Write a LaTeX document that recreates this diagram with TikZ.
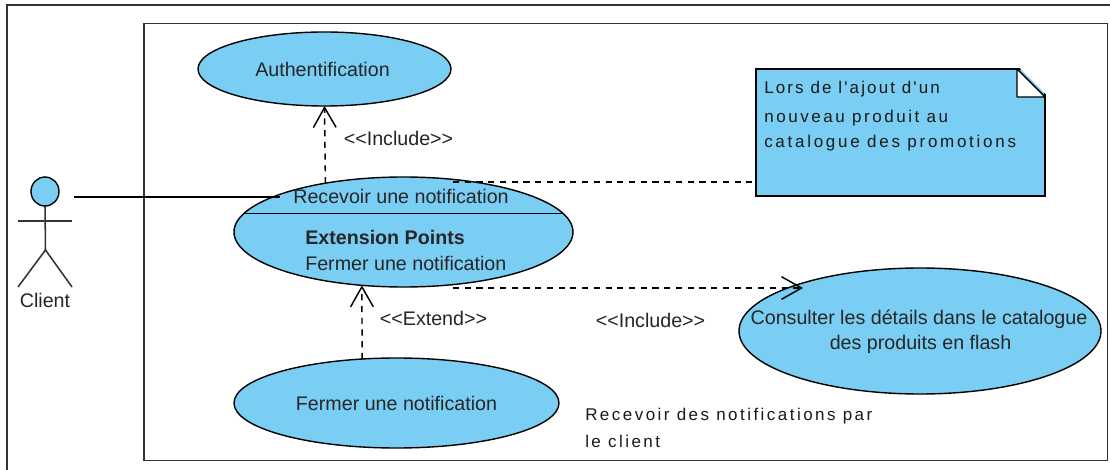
\documentclass[tikz,border=0pt]{standalone}
\usepackage{fontspec}
\setmainfont{Liberation Sans}
\newfontfamily\spacedA[LetterSpace=12.5]{Liberation Sans}
\newfontfamily\spacedB[LetterSpace=15]{Liberation Sans}
\newfontfamily\spacedC[LetterSpace=16]{Liberation Sans}
\newfontfamily\spacedD[LetterSpace=14.5]{Liberation Sans}
\newcommand{\stereo}[1]{<\kern0pt<#1>\kern0pt>}
\usetikzlibrary{arrows.meta,shapes.geometric,calc}
\definecolor{ucblue}{HTML}{7ACEF4}
\definecolor{txt}{HTML}{262626}
\definecolor{framec}{HTML}{333333}
\tikzset{
  x=0.75pt,y=-0.75pt,
  frameline/.style={draw=framec,line width=1.35pt},
  usecase/.style={ellipse,draw=black,fill=ucblue,line width=1.05pt,inner sep=0pt,outer sep=0pt},
  lbl/.style={text=txt,inner sep=0pt,font=\fontsize{14.75pt}{19pt}\selectfont},
  notetext/.style={text=black!90,inner sep=0pt,anchor=west,font=\fontsize{12.75pt}{15pt}\selectfont},
  dep/.style={draw=black,line width=1.1pt,dash pattern=on 4.6pt off 4.2pt},
  deparrow/.style={dep,-{Straight Barb[length=15pt,width=17pt,line width=1.1pt]}},
  actorline/.style={draw=framec,line width=1.15pt},
}
\begin{document}
\begin{tikzpicture}
\useasboundingbox (0,0) rectangle (1110,470);
\fill[white] (0,0) rectangle (1110,470);
% outer frame
\coordinate (o1) at (7,470);
\coordinate (o2) at (7,5);
\coordinate (o3) at (1110,5);
\draw[frameline] (o1) -- (o2) -- (o3);
% system boundary
\node[rectangle,frameline,minimum width=963.5*0.75pt,minimum height=437*0.75pt,inner sep=0pt,outer sep=0pt] (sys) at (625.75,242) {};
% use cases
\node[usecase,minimum width=253*0.75pt,minimum height=74*0.75pt] (auth) at (324.5,69) {};
\node[lbl] (autht) at (322.5,69) {Authentification};
\node[usecase,minimum width=339*0.75pt,minimum height=110*0.75pt] (recv) at (403.5,232) {};
\node[usecase,minimum width=325*0.75pt,minimum height=90*0.75pt] (ferm) at (396.5,403) {};
\node[lbl] (fermt) at (396.5,403) {Fermer une notification};
\node[usecase,minimum width=362*0.75pt,minimum height=126*0.75pt] (cons) at (920,331) {};
\node[lbl] (cons1) at (919,319) {Consulter les détails dans le catalogue};
\node[lbl] (cons2) at (920.5,344) {des produits en flash};
\coordinate (divL) at ($(recv.center)+(-160,-18.5)$);
\coordinate (divR) at ($(recv.center)+(160,-18.5)$);
\draw[black,line width=1.05pt] (divL) -- (divR);
\node[lbl] (recvt) at (401,196) {Recevoir une notification};
\node[lbl,font=\fontsize{14.75pt}{19pt}\selectfont\bfseries,anchor=west] (extp) at (305,237) {Extension Points};
\node[lbl,anchor=west] (extf) at (305,263) {Fermer une notification};
% note
\node[rectangle,draw=black,fill=ucblue,line width=1.05pt,minimum width=289*0.75pt,minimum height=127*0.75pt,inner sep=0pt,outer sep=0pt] (note) at (900.5,132.5) {};
\coordinate (f1) at (1017,69);
\coordinate (f2) at (1045,97);
\coordinate (f3) at (1017,97);
\fill[white] (1017.5,66) -- (1048,66) -- (1048,96.5) -- cycle;
\draw[black,line width=1.05pt,fill=white,line join=round] (f1) -- (f2) -- (f3) -- cycle;
\node[notetext] (n1) at (764,89) {\spacedA Lors de l'ajout d'un};
\node[notetext] (n2) at (764,118) {\spacedB nouveau produit au};
\node[notetext] (n3) at (764,143) {\spacedC catalogue des promotions};
% free text
\node[notetext] (s1) at (585,416) {\spacedD Recevoir des notifications par};
\node[notetext] (s2) at (585,441) {\spacedD le client};
% labels
\node[lbl] (l1) at (398.5,138) {\stereo{Include}};
\node[lbl] (l2) at (433.5,318) {\stereo{Extend}};
\node[lbl] (l3) at (650.5,320) {\stereo{Include}};
% actor
\node[ellipse,draw=black,fill=ucblue,line width=1.05pt,minimum width=28*0.75pt,minimum height=29*0.75pt,inner sep=0pt,outer sep=0pt] (head) at (45,191.5) {};
\coordinate (hip) at (45.5,250);
\coordinate (armL) at (18,221);
\coordinate (armR) at (72,221);
\coordinate (legL) at (18,287);
\coordinate (legR) at (72,287);
\draw[actorline] (head.south) -- (hip);
\draw[actorline] (armL) -- (armR);
\draw[actorline] (legL) -- (hip) -- (legR);
\node[lbl] (client) at (45,300) {Client};
% connectors
\coordinate (assocA) at (74,197);
\coordinate (assocB) at (280,197);
\draw[black,line width=1.05pt] (assocA) -- (assocB);
\coordinate (noteL) at (453,182);
\coordinate (noteR) at (756,182);
\draw[dep] (noteL) -- (noteR);
\draw[deparrow] (recv.148) -- (auth.south);
\draw[deparrow] (ferm.128) -- (recv.232);
\coordinate (inclA) at (453,288);
\coordinate (inclB) at (803,288);
\draw[deparrow] (inclA) -- (inclB);
\end{tikzpicture}
\end{document}
